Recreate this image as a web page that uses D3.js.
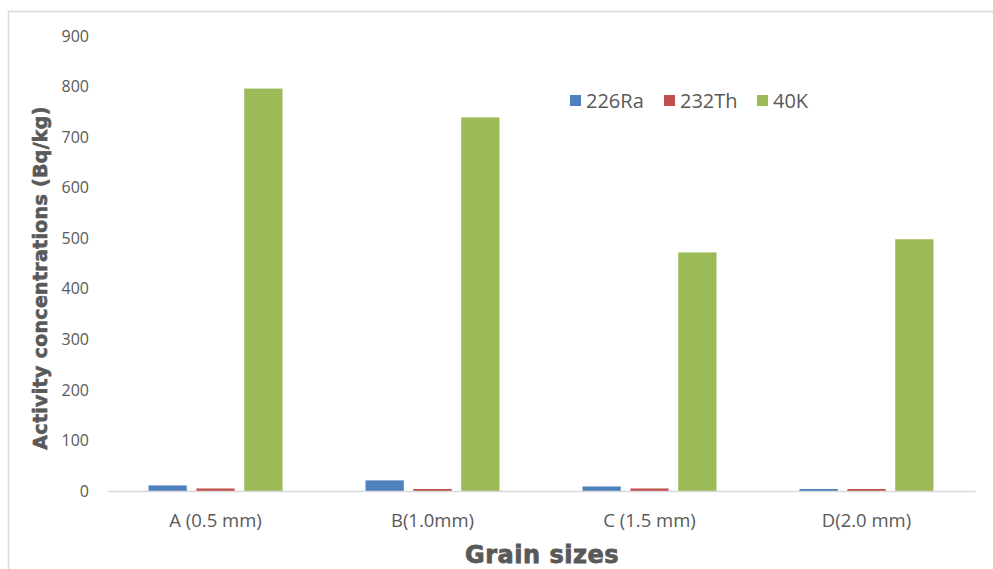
<!DOCTYPE html>
<html>
<head>
<meta charset="utf-8">
<script src="https://cdn.jsdelivr.net/npm/d3@7"></script>
<style>
  html, body { margin: 0; padding: 0; background: #fff; }
  svg { display: block; }
</style>
</head>
<body>
<svg id="chart" width="993" height="569"></svg>
<script>
// Grain-size classes and measured activity concentrations (Bq/kg)
const categories = ["A (0.5 mm)", "B(1.0mm)", "C (1.5 mm)", "D(2.0 mm)"];
const seriesNames = ["226Ra", "232Th", "40K"];
const ra226 = [11, 21, 9, 4];
const th232 = [5, 4, 5, 4];
const k40 = [796, 739, 472, 498];
const yTicks = [0, 100, 200, 300, 400, 500, 600, 700, 800, 900];
const colors = ["#4f81bd", "#c0504d", "#9bbb59"];

const values = [ra226, th232, k40];

const svg = d3.select("#chart");
const W = 993, H = 569;
const bodyFont = "'Open Sans', 'Liberation Sans', sans-serif";
const titleFont = "'DejaVu Sans', sans-serif";

// chart frame
svg.append("path")
  .attr("d", `M8.5,${H} V11.5 H${W}`)
  .attr("fill", "none")
  .attr("stroke", "#d9d9d9")
  .attr("stroke-width", 1.5);

const plot = { left: 107, right: 975, top: 36, bottom: 491 };

const x = d3.scaleBand().domain(categories).range([plot.left, plot.right]);
const xInner = d3.scaleBand().domain(seriesNames)
  .range([x.bandwidth() / 2 - 67, x.bandwidth() / 2 + 67])
  .paddingInner(0.2);
const y = d3.scaleLinear().domain([0, 900]).range([plot.bottom, plot.top]);

// y tick labels
const yAxis = d3.axisLeft(y).tickValues(yTicks).tickSize(0).tickPadding(0);
const gy = svg.append("g").attr("transform", `translate(89,0)`).call(yAxis);
gy.select(".domain").remove();
gy.attr("font-size", null).attr("font-family", null);
gy.selectAll("text")
  .attr("fill", "#595959")
  .style("font-family", bodyFont)
  .style("font-size", "16px");

// bars
categories.forEach((c, ci) => {
  seriesNames.forEach((s, si) => {
    const v = values[si][ci];
    svg.append("rect")
      .attr("x", x(c) + xInner(s))
      .attr("y", y(v))
      .attr("width", xInner.bandwidth())
      .attr("height", y(0) - y(v))
      .attr("fill", colors[si]);
  });
});

// category axis
const xAxis = d3.axisBottom(x).tickSize(0).tickPadding(0);
const gx = svg.append("g").attr("transform", `translate(0,${plot.bottom})`).call(xAxis);
gx.attr("font-size", null).attr("font-family", null);
gx.select(".domain").attr("stroke", "#d9d9d9").attr("stroke-width", 1.5);
gx.selectAll("text")
  .attr("dy", "0")
  .attr("y", 36)
  .attr("fill", "#595959")
  .style("font-family", bodyFont)
  .style("font-size", "18.5px");

// axis titles
svg.append("text")
  .attr("transform", "translate(47,278) rotate(-90)")
  .attr("text-anchor", "middle")
  .attr("fill", "#595959")
  .attr("stroke", "#595959")
  .attr("stroke-width", 0.6)
  .style("font-family", titleFont)
  .style("font-weight", "bold")
  .style("font-size", "19px")
  .style("letter-spacing", "0.3px")
  .text("Activity concentrations (Bq/kg)");

svg.append("text")
  .attr("x", 542)
  .attr("y", 563)
  .attr("text-anchor", "middle")
  .attr("fill", "#595959")
  .attr("stroke", "#595959")
  .attr("stroke-width", 0.8)
  .style("font-family", titleFont)
  .style("font-weight", "bold")
  .style("font-size", "24px")
  .style("letter-spacing", "0.5px")
  .text("Grain sizes");

// legend
const legendX = [570, 664, 757];
const lg = svg.append("g");
seriesNames.forEach((s, i) => {
  lg.append("rect")
    .attr("x", legendX[i]).attr("y", 95)
    .attr("width", 11).attr("height", 11)
    .attr("fill", colors[i]);
  lg.append("text")
    .attr("x", legendX[i] + 16).attr("y", 108)
    .attr("fill", "#595959")
    .style("font-family", bodyFont)
    .style("font-size", "20px")
    .text(s);
});
</script>
</body>
</html>
